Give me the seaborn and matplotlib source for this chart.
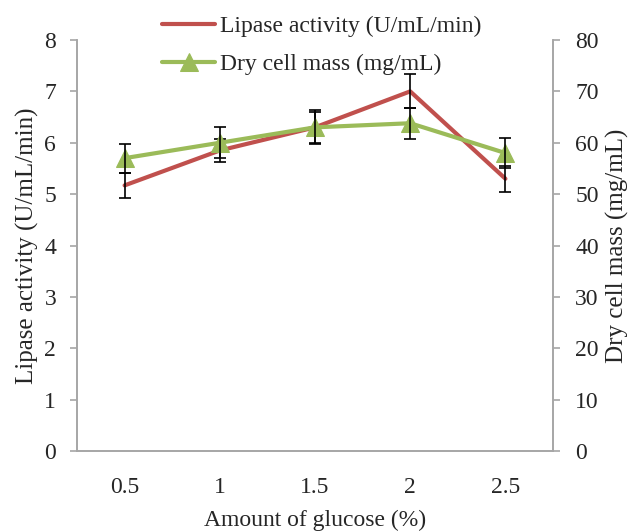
import matplotlib
matplotlib.use("Agg")
import matplotlib.pyplot as plt
import seaborn as sns
import pandas as pd
import numpy as np

glucose = ["0.5", "1", "1.5", "2", "2.5"]
lipase = [5.17, 5.85, 6.30, 7.00, 5.30]
lipase_err = [0.25, 0.22, 0.30, 0.33, 0.25]
dcm = [57.0, 60.0, 63.0, 63.8, 58.0]
dcm_err = [2.8, 3.0, 3.3, 3.0, 3.0]

sns.set_theme(style="white")
plt.rcParams['font.family'] = ['Liberation Serif', 'DejaVu Serif']
FS = 17
FSY = 18

red = "#C0504D"
green = "#9BBB59"
grey = "#A6A6A6"

df = pd.DataFrame({"pos": np.arange(len(glucose)), "glucose": glucose,
                   "lipase": lipase, "dcm": dcm})

fig = plt.figure(figsize=(6.33, 5.32), dpi=100)
ax = fig.add_axes([77 / 633, 1 - 451 / 532, 476 / 633, 411 / 532])
ax2 = ax.twinx()

sns.lineplot(data=df, x="pos", y="lipase", ax=ax, color=red, lw=3,
             label="Lipase activity (U/mL/min)", legend=False)
ax.errorbar(df["pos"], lipase, yerr=lipase_err, fmt="none", ecolor="black",
            elinewidth=1.2, capsize=4, capthick=1.2, zorder=5)

sns.lineplot(data=df, x="pos", y="dcm", ax=ax2, color=green, lw=3,
             marker="^", markersize=13, markeredgecolor=green,
             label="Dry cell mass (mg/mL)", legend=False)
ax2.errorbar(df["pos"], dcm, yerr=dcm_err, fmt="none", ecolor="black",
             elinewidth=1.2, capsize=4, capthick=1.2, zorder=5)

ax.set_xlim(-0.5, 4.5)
ax.set_ylim(0, 8)
ax2.set_ylim(0, 80)
ax.set_yticks(range(0, 9))
ax2.set_yticks(range(0, 81, 10))
ax.set_xticks(np.arange(len(glucose)))
ax.set_xticklabels(glucose, fontsize=FS)
ax.set_xticks(np.arange(-0.5, 5, 1), minor=True)
ax.tick_params(axis="x", which="major", length=0, pad=19)
ax.tick_params(axis="x", which="minor", length=5, color=grey, width=1.2, direction="out")
ax.tick_params(axis="y", length=5, color=grey, width=1.2, direction="out", labelsize=FS, pad=10)
ax2.tick_params(axis="y", length=5, color=grey, width=1.2, direction="out", labelsize=FS, pad=11)

for a in (ax, ax2):
    a.spines["top"].set_visible(False)
    for s in ["left", "right", "bottom"]:
        a.spines[s].set_color(grey)
        a.spines[s].set_linewidth(1.2)
    a.grid(False)

ax.set_xlabel("Amount of glucose (%)", fontsize=FS, labelpad=8)
ax.set_ylabel("Lipase activity (U/mL/min)", fontsize=FSY, labelpad=4)
ax2.set_ylabel("Dry cell mass (mg/mL)", fontsize=FSY, labelpad=5)

h1, l1 = ax.get_legend_handles_labels()
h2, l2 = ax2.get_legend_handles_labels()
fig.legend(h1 + h2, l1 + l2, loc="upper center", bbox_to_anchor=(0.508, 1.01),
           frameon=False, fontsize=FS, handlelength=2.25, handletextpad=0.2,
           labelspacing=0.68)

fig.savefig("out.png", dpi=100)
